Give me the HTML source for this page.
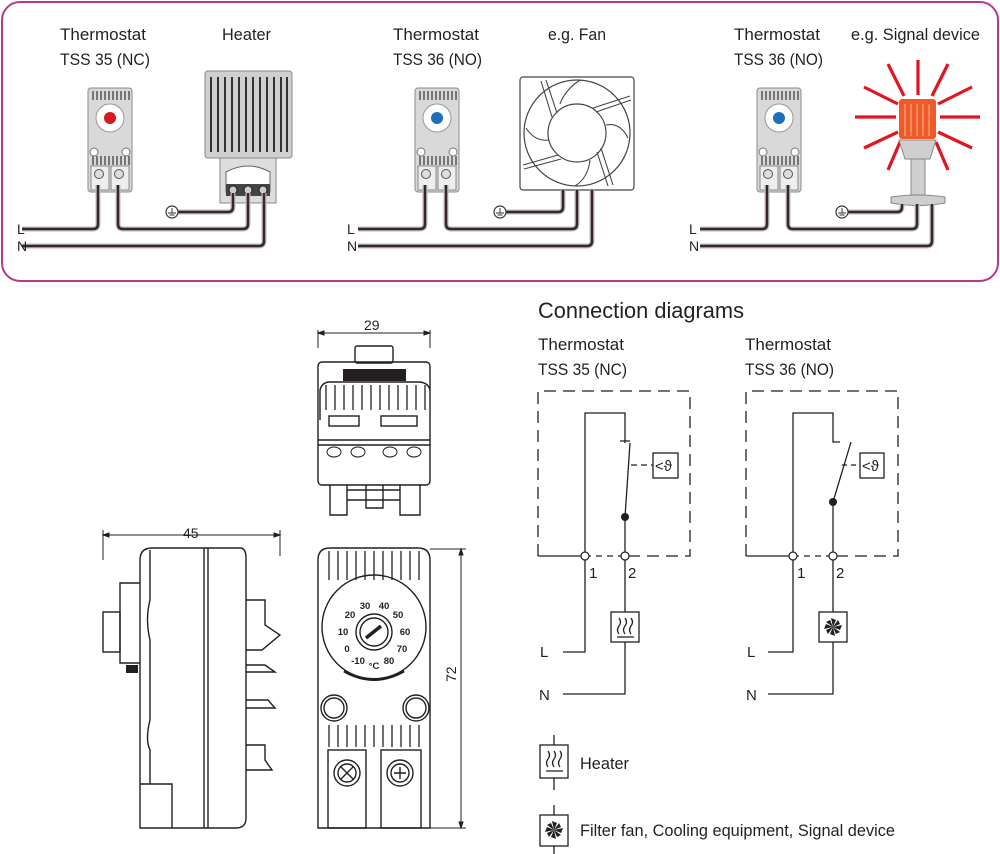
<!DOCTYPE html>
<html><head><meta charset="utf-8"><style>
html,body{margin:0;padding:0;background:#fff}
svg{display:block}
text{font-family:"Liberation Sans",sans-serif;fill:#231f20}
</style></head><body>
<svg width="1000" height="854" viewBox="0 0 1000 854" xmlns="http://www.w3.org/2000/svg">
<defs>
<g id="th">
  <rect x="0" y="0" width="44" height="104" rx="3" fill="#d9d9d9" stroke="#8a8a8a"/>
  <g stroke="#555" stroke-width="1.5">
    <line x1="5" y1="3" x2="5" y2="12"/><line x1="9" y1="3" x2="9" y2="12"/><line x1="13" y1="3" x2="13" y2="12"/><line x1="17" y1="3" x2="17" y2="12"/><line x1="21" y1="3" x2="21" y2="12"/><line x1="25" y1="3" x2="25" y2="12"/><line x1="29" y1="3" x2="29" y2="12"/><line x1="33" y1="3" x2="33" y2="12"/><line x1="37" y1="3" x2="37" y2="12"/><line x1="41" y1="3" x2="41" y2="12"/>
    <line x1="5" y1="68" x2="5" y2="77"/><line x1="9" y1="68" x2="9" y2="77"/><line x1="13" y1="68" x2="13" y2="77"/><line x1="17" y1="68" x2="17" y2="77"/><line x1="21" y1="68" x2="21" y2="77"/><line x1="25" y1="68" x2="25" y2="77"/><line x1="29" y1="68" x2="29" y2="77"/><line x1="33" y1="68" x2="33" y2="77"/><line x1="37" y1="68" x2="37" y2="77"/><line x1="41" y1="68" x2="41" y2="77"/>
  </g>
  <circle cx="22" cy="30" r="14" fill="#fff" stroke="#999"/>
  <circle cx="6" cy="64" r="4" fill="#fff" stroke="#777"/><circle cx="38" cy="64" r="4" fill="#fff" stroke="#777"/>
  <rect x="3" y="78" width="18" height="24" fill="#eee" stroke="#888"/><rect x="23" y="78" width="18" height="24" fill="#eee" stroke="#888"/>
  <circle cx="11" cy="86" r="4.5" fill="#ddd" stroke="#555"/><circle cx="31" cy="86" r="4.5" fill="#ddd" stroke="#555"/>
</g>
<g id="gnd">
  <circle cx="0" cy="0" r="6" fill="#fff" stroke="#333" stroke-width="1.2"/>
  <line x1="0" y1="-4" x2="0" y2="1" stroke="#333"/><line x1="-4" y1="1" x2="4" y2="1" stroke="#333"/><line x1="-2.5" y1="3" x2="2.5" y2="3" stroke="#333"/>
</g>
</defs>

<rect x="2" y="2" width="996" height="279" rx="18" fill="none" stroke="#b5378f" stroke-width="2"/>

<g font-size="17">
<text x="60" y="40" textLength="86" lengthAdjust="spacingAndGlyphs">Thermostat</text><text x="60" y="65" textLength="90" lengthAdjust="spacingAndGlyphs">TSS 35 (NC)</text>
<text x="222" y="40" textLength="49" lengthAdjust="spacingAndGlyphs">Heater</text>
<text x="393" y="40" textLength="86" lengthAdjust="spacingAndGlyphs">Thermostat</text><text x="393" y="65" textLength="89" lengthAdjust="spacingAndGlyphs">TSS 36 (NO)</text>
<text x="548" y="40" textLength="58" lengthAdjust="spacingAndGlyphs">e.g. Fan</text>
<text x="734" y="40" textLength="86" lengthAdjust="spacingAndGlyphs">Thermostat</text><text x="734" y="65" textLength="89" lengthAdjust="spacingAndGlyphs">TSS 36 (NO)</text>
<text x="851" y="40" textLength="129" lengthAdjust="spacingAndGlyphs">e.g. Signal device</text>
</g>

<!-- panel 1 -->
<use href="#th" x="88" y="88"/>
<circle cx="110" cy="118" r="6" fill="#d7191f"/>
<rect x="205" y="71" width="87" height="87" rx="3" fill="#d0d0d0" stroke="#888"/>
<g stroke="#333" stroke-width="2">
<line x1="211" y1="77" x2="211" y2="152"/><line x1="218" y1="77" x2="218" y2="152"/><line x1="225" y1="77" x2="225" y2="152"/><line x1="232" y1="77" x2="232" y2="152"/><line x1="239" y1="77" x2="239" y2="152"/><line x1="246" y1="77" x2="246" y2="152"/><line x1="253" y1="77" x2="253" y2="152"/><line x1="260" y1="77" x2="260" y2="152"/><line x1="267" y1="77" x2="267" y2="152"/><line x1="274" y1="77" x2="274" y2="152"/><line x1="281" y1="77" x2="281" y2="152"/><line x1="287" y1="77" x2="287" y2="152"/>
</g>
<rect x="220" y="158" width="56" height="45" fill="#ddd" stroke="#888"/>
<path d="M226 172 Q248 160 270 172 V192 H226Z" fill="#fff" stroke="#666"/>
<rect x="226" y="184" width="44" height="12" fill="#444"/>
<circle cx="233" cy="190" r="4" fill="#ccc" stroke="#222"/><circle cx="248" cy="190" r="4" fill="#ccc" stroke="#222"/><circle cx="263" cy="190" r="4" fill="#ccc" stroke="#222"/>

<!-- panel 2 -->
<use href="#th" x="415" y="88"/>
<circle cx="437" cy="118" r="6" fill="#1f6fb7"/>
<rect x="520" y="77" width="114" height="113" rx="3" fill="#fff" stroke="#444" stroke-width="1.2"/>
<circle cx="577" cy="133" r="53" fill="none" stroke="#444" stroke-width="1.2"/>
<circle cx="577" cy="133" r="29" fill="none" stroke="#444" stroke-width="1.2"/>
<g stroke="#444" fill="none" stroke-width="1.1">
<path d="M541 81 L552 117"/><path d="M546 80 L557 113"/>
<path d="M630 96 L593 108"/><path d="M631 100 L596 112"/>
<path d="M613 185 L601 148"/><path d="M608 186 L597 152"/>
<path d="M524 169 L561 159"/><path d="M523 165 L558 155"/>
<path d="M560 104 Q565 90 580 80"/><path d="M606 125 Q620 122 628 138"/><path d="M590 160 Q588 178 575 186"/><path d="M549 140 Q535 142 526 128"/>
</g>

<!-- panel 3 -->
<use href="#th" x="757" y="88"/>
<circle cx="779" cy="118" r="6" fill="#1f6fb7"/>
<g stroke="#e2151f" stroke-width="3.2">
<line x1="918" y1="60" x2="918" y2="95"/>
<line x1="888" y1="64" x2="904" y2="96"/><line x1="948" y1="64" x2="932" y2="96"/>
<line x1="864" y1="87" x2="898" y2="104"/><line x1="972" y1="87" x2="938" y2="104"/>
<line x1="855" y1="117" x2="896" y2="117"/><line x1="980" y1="117" x2="940" y2="117"/>
<line x1="864" y1="148" x2="898" y2="132"/><line x1="972" y1="148" x2="938" y2="132"/>
<line x1="888" y1="170" x2="900" y2="142"/><line x1="948" y1="170" x2="936" y2="142"/>
</g>
<rect x="899" y="99" width="37" height="40" rx="3" fill="#f05a28"/>
<g stroke="#f9a37a" stroke-width="1.3"><line x1="905" y1="104" x2="905" y2="136"/><line x1="911" y1="104" x2="911" y2="136"/><line x1="917" y1="104" x2="917" y2="136"/><line x1="923" y1="104" x2="923" y2="136"/><line x1="929" y1="104" x2="929" y2="136"/></g>
<path d="M899 140 H936 L930 159 H905Z" fill="#cfcfcf" stroke="#888"/>
<rect x="911" y="159" width="14" height="36" fill="#cfcfcf" stroke="#888"/>
<path d="M891 197 Q918 193 945 197 V203 Q918 208 891 203Z" fill="#cfcfcf" stroke="#888"/>

<!-- wires -->
<g fill="none" stroke="#bdbdbd" stroke-width="5" stroke-linejoin="round">
<path d="M22 229 H93 Q98 229 98 224 V185"/><path d="M118 185 V224 Q118 229 123 229 H243 Q248 229 248 224 V193"/><path d="M22 246 H259 Q264 246 264 241 V193"/><path d="M178 212 H228 Q233 212 233 207 V193"/>
<path d="M358 229 H420 Q425 229 425 224 V185"/><path d="M446 185 V224 Q446 229 451 229 H572 Q577 229 577 224 V190"/><path d="M358 246 H587 Q592 246 592 241 V190"/><path d="M506 212 H558 Q563 212 563 207 V190"/>
<path d="M700 229 H762 Q767 229 767 224 V185"/><path d="M788 185 V224 Q788 229 793 229 H912 Q917 229 917 224 V204"/><path d="M700 246 H927 Q932 246 932 241 V204"/><path d="M848 212 H897 Q902 212 902 207 V204"/>
</g>
<g fill="none" stroke="#3a2626" stroke-width="2.5" stroke-linejoin="round">
<path d="M22 229 H93 Q98 229 98 224 V185"/><path d="M118 185 V224 Q118 229 123 229 H243 Q248 229 248 224 V193"/><path d="M22 246 H259 Q264 246 264 241 V193"/><path d="M178 212 H228 Q233 212 233 207 V193"/>
<path d="M358 229 H420 Q425 229 425 224 V185"/><path d="M446 185 V224 Q446 229 451 229 H572 Q577 229 577 224 V190"/><path d="M358 246 H587 Q592 246 592 241 V190"/><path d="M506 212 H558 Q563 212 563 207 V190"/>
<path d="M700 229 H762 Q767 229 767 224 V185"/><path d="M788 185 V224 Q788 229 793 229 H912 Q917 229 917 224 V204"/><path d="M700 246 H927 Q932 246 932 241 V204"/><path d="M848 212 H897 Q902 212 902 207 V204"/>
</g>
<use href="#gnd" x="172" y="212"/><use href="#gnd" x="500" y="212"/><use href="#gnd" x="842" y="212"/>
<g font-size="14"><text x="17" y="234">L</text><text x="17" y="251">N</text><text x="347" y="234">L</text><text x="347" y="251">N</text><text x="689" y="234">L</text><text x="689" y="251">N</text></g>

<!-- connection diagrams -->
<text x="538" y="318" font-size="22" textLength="206" lengthAdjust="spacingAndGlyphs">Connection diagrams</text>
<g font-size="17"><text x="538" y="350" textLength="86" lengthAdjust="spacingAndGlyphs">Thermostat</text><text x="538" y="375" textLength="89" lengthAdjust="spacingAndGlyphs">TSS 35 (NC)</text><text x="745" y="350" textLength="86" lengthAdjust="spacingAndGlyphs">Thermostat</text><text x="745" y="375" textLength="89" lengthAdjust="spacingAndGlyphs">TSS 36 (NO)</text></g>

<g fill="none" stroke="#231f20" stroke-width="1.3">
<path d="M538 556 V391 H690 V556 H625" stroke-dasharray="12 7"/>
<path d="M538 556 H585" /><path d="M585 556 H625" stroke-dasharray="6 5"/>
<path d="M585 556 V413 H625 V443 M620 441 H630 M630 443 L625 517 V556"/>
<path d="M631 465 H653" stroke-dasharray="6 4"/>
<rect x="653" y="453" width="25" height="25"/>
<path d="M585 556 V652 H563 M625 556 V612 M625 642 V694 H563"/>
<rect x="611" y="612" width="28" height="30"/>
<path d="M746 556 V391 H898 V556 H833" stroke-dasharray="12 7"/>
<path d="M746 556 H793"/><path d="M793 556 H833" stroke-dasharray="6 5"/>
<path d="M793 556 V413 H833 V442 H840 M851 442 L833 502 V556"/>
<path d="M842 465 H860" stroke-dasharray="5 4"/>
<rect x="860" y="453" width="24" height="25"/>
<path d="M793 556 V652 H768 M833 556 V612 M833 642 V694 H768"/>
<rect x="819" y="612" width="28" height="30"/>
<path d="M554 735 V745 M554 778 V790 M554 805 V815 M554 846 V854"/>
<rect x="540" y="745" width="28" height="33"/>
<rect x="540" y="815" width="28" height="31"/>
</g>
<g fill="#fff" stroke="#231f20" stroke-width="1.2"><circle cx="585" cy="556" r="4"/><circle cx="625" cy="556" r="4"/><circle cx="793" cy="556" r="4"/><circle cx="833" cy="556" r="4"/></g>
<circle cx="625" cy="517" r="4" fill="#231f20"/><circle cx="833" cy="502" r="4" fill="#231f20"/>
<g font-size="15"><text x="655" y="471">&lt;ϑ</text><text x="862" y="471">&lt;ϑ</text>
<text x="589" y="578">1</text><text x="628" y="578">2</text><text x="797" y="578">1</text><text x="836" y="578">2</text>
<text x="540" y="657">L</text><text x="539" y="700">N</text><text x="747" y="657">L</text><text x="746" y="700">N</text></g>
<g fill="none" stroke="#231f20" stroke-width="1.3">
<path d="M619 618 q3 4 0 8 q-3 4 0 8 M625 618 q3 4 0 8 q-3 4 0 8 M631 618 q3 4 0 8 q-3 4 0 8 M617 637 H634"/>
<path d="M548 751 q3 4 0 8 q-3 4 0 8 M554 751 q3 4 0 8 q-3 4 0 8 M560 751 q3 4 0 8 q-3 4 0 8 M546 771 H563"/>
</g>
<g fill="#231f20">
<g transform="translate(833,627)"><path d="M0 0 L-2 -9 L3 -7Z M0 0 L9 -2 L7 3Z M0 0 L2 9 L-3 7Z M0 0 L-9 2 L-7 -3Z M0 0 L5 -7 L7 -3Z M0 0 L7 5 L3 7Z M0 0 L-5 7 L-7 3Z M0 0 L-7 -5 L-3 -7Z"/></g>
<g transform="translate(554,830)"><path d="M0 0 L-2 -9 L3 -7Z M0 0 L9 -2 L7 3Z M0 0 L2 9 L-3 7Z M0 0 L-9 2 L-7 -3Z M0 0 L5 -7 L7 -3Z M0 0 L7 5 L3 7Z M0 0 L-5 7 L-7 3Z M0 0 L-7 -5 L-3 -7Z"/></g>
</g>
<g font-size="17"><text x="580" y="769" textLength="49" lengthAdjust="spacingAndGlyphs">Heater</text><text x="580" y="836" textLength="315" lengthAdjust="spacingAndGlyphs">Filter fan, Cooling equipment, Signal device</text></g>

<!-- mechanical drawings -->
<g font-size="14"><text x="364" y="330">29</text><text x="183" y="538">45</text>
<text x="0" y="0" transform="translate(456,682) rotate(-90)">72</text></g>
<g fill="none" stroke="#231f20" stroke-width="1">
<path d="M318 330 V348 M430 330 V348 M318 333 H430"/>
<path d="M318 333 l6 -2 v4z M430 333 l-6 -2 v4z" fill="#231f20"/>
<path d="M103 530 V560 M280 530 V556 M103 535 H280"/>
<path d="M103 535 l6 -2 v4z M280 535 l-6 -2 v4z" fill="#231f20"/>
<path d="M430 549 H466 M430 828 H466 M461 549 V828"/>
<path d="M461 549 l-2 6 h4z M461 828 l-2 -6 h4z" fill="#231f20"/>
</g>
<g fill="none" stroke="#231f20" stroke-width="1.4">
<rect x="355" y="346" width="38" height="17" rx="2"/>
<rect x="318" y="362" width="112" height="123" rx="4"/>
<line x1="318" y1="445" x2="430" y2="445"/><line x1="318" y1="440" x2="430" y2="440"/>
<path d="M320 420 V390 Q322 382 330 382 H418 Q428 382 430 390"/>
<rect x="329" y="416" width="30" height="10"/><rect x="381" y="416" width="36" height="10"/>
<path d="M330 485 V515 H347 V485 M400 485 V515 H420 V485 M347 490 H400 M347 500 H400 M366 485 V508 H383 V485"/>
<path d="M318 828 V560 Q318 548 330 548 H418 Q430 548 430 560 V828Z"/>
<circle cx="374" cy="627" r="52"/><circle cx="374" cy="632" r="18"/><circle cx="374" cy="632" r="14"/>
<path d="M344 671 Q374 688 404 671" stroke-width="3"/>
<circle cx="334" cy="708" r="13"/><circle cx="334" cy="708" r="10"/><circle cx="416" cy="708" r="13"/><circle cx="416" cy="708" r="10"/>
<rect x="328" y="750" width="38" height="78"/><rect x="381" y="750" width="40" height="78"/>
<circle cx="347" cy="773" r="13"/><circle cx="347" cy="773" r="9"/><circle cx="400" cy="773" r="13"/><circle cx="400" cy="773" r="9"/>
<path d="M341 767 L353 779 M353 767 L341 779 M394 773 H406 M400 767 V779"/>
<path d="M140 828 V560 Q140 548 152 548 H240 Q246 548 246 558 V818 Q246 828 236 828Z"/>
<line x1="204" y1="548" x2="204" y2="828"/><line x1="208" y1="548" x2="208" y2="828"/>
<path d="M150 550 V600 Q145 620 150 640 V720 Q145 740 150 750 V784"/>
<path d="M140 784 H172 V828"/>
<path d="M140 583 H120 V663 H140"/><rect x="103" y="612" width="17" height="40"/>
<path d="M246 600 H265 V625 L280 635 L262 650 H246 M246 665 H265 L275 672 H246 M246 700 H268 L275 708 H246 M246 745 H265 V760 L272 770 H246"/>
</g>
<rect x="126" y="665" width="12" height="8" fill="#231f20"/>
<rect x="343" y="369" width="63" height="12" fill="#231f20"/>
<g stroke="#231f20" stroke-width="1.3">
<path d="M326 385 V410 M335 385 V410 M344 385 V410 M353 385 V410 M362 385 V410 M371 385 V410 M380 385 V410 M389 385 V410 M398 385 V410 M407 385 V410 M416 385 V410 M425 385 V410"/>
<path d="M329 551 V580 M338 551 V580 M347 551 V580 M356 551 V580 M365 551 V580 M374 551 V580 M383 551 V580 M392 551 V580 M401 551 V580 M410 551 V580 M419 551 V580"/>
<path d="M329 725 V747 M338 725 V747 M347 725 V747 M356 725 V747 M365 725 V747 M374 725 V747 M383 725 V747 M392 725 V747 M401 725 V747 M410 725 V747 M419 725 V747"/>
</g>
<ellipse cx="334" cy="452" rx="7" ry="5" fill="none" stroke="#231f20"/><ellipse cx="358" cy="452" rx="7" ry="5" fill="none" stroke="#231f20"/><ellipse cx="390" cy="452" rx="7" ry="5" fill="none" stroke="#231f20"/><ellipse cx="414" cy="452" rx="7" ry="5" fill="none" stroke="#231f20"/>
<line x1="366" y1="638" x2="381" y2="626" stroke="#231f20" stroke-width="3.5"/>
<g font-size="9.5" font-weight="bold" text-anchor="middle">
<text x="365" y="609">30</text><text x="384" y="609">40</text><text x="350" y="618">20</text><text x="398" y="618">50</text>
<text x="343" y="635">10</text><text x="405" y="635">60</text><text x="347" y="652">0</text><text x="402" y="652">70</text>
<text x="358" y="664">-10</text><text x="374" y="669">°C</text><text x="389" y="664">80</text>
</g>
</svg>
</body></html>
